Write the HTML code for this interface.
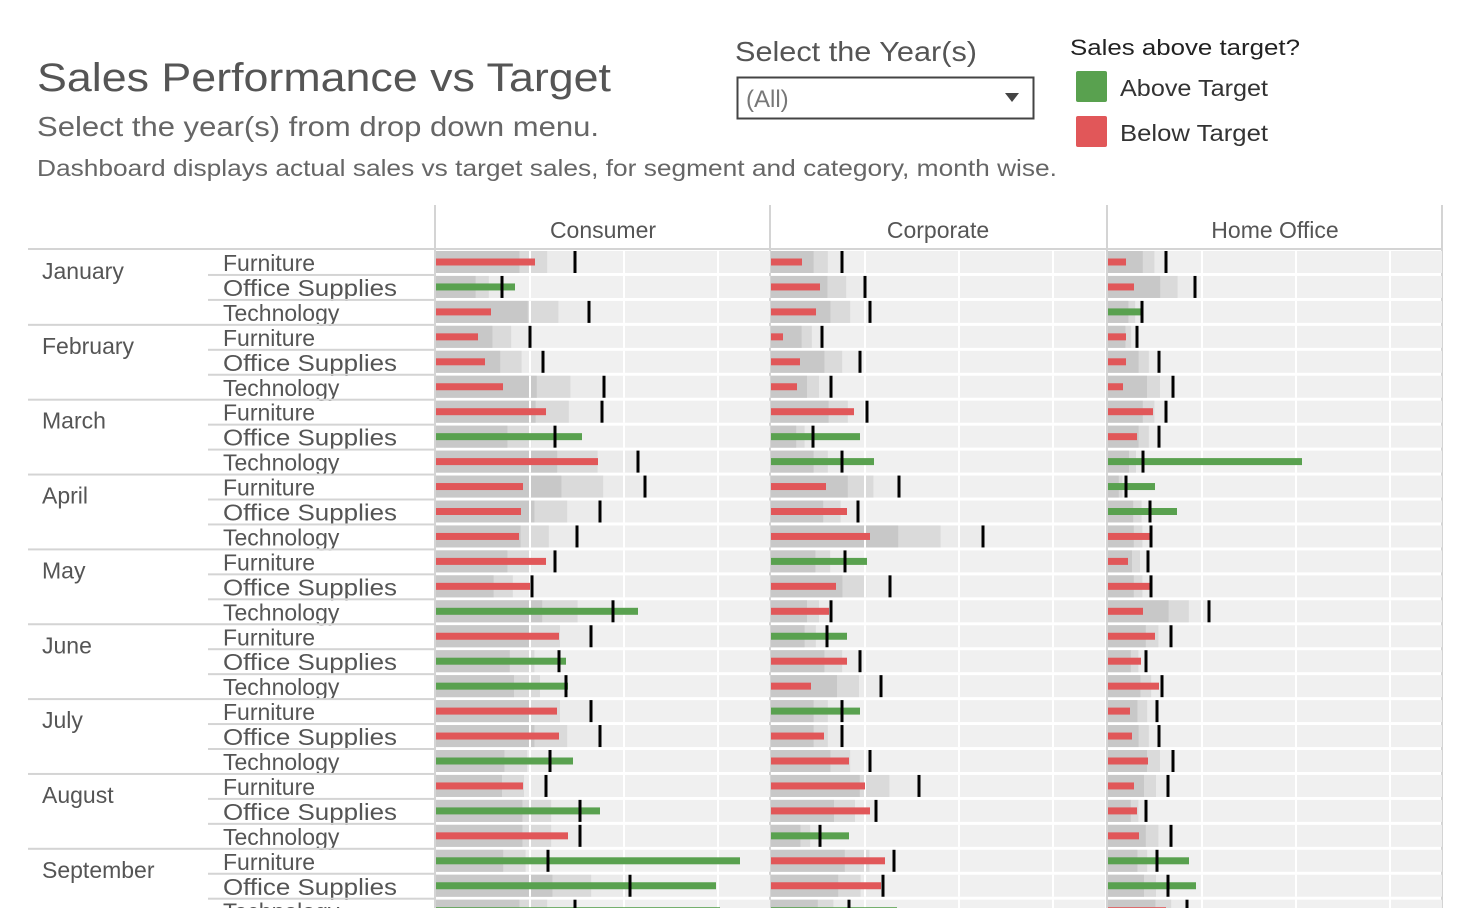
<!DOCTYPE html>
<html><head><meta charset="utf-8">
<style>
html,body{margin:0;padding:0;background:#fff;width:1472px;height:908px;overflow:hidden}
svg{display:block}
text{font-family:"Liberation Sans",sans-serif}
</style></head>
<body>
<svg id="chart" width="1472" height="908" viewBox="0 0 1472 908">
<text x="37" y="91" font-size="40" fill="#555" textLength="574" lengthAdjust="spacingAndGlyphs">Sales Performance vs Target</text>
<text x="37" y="136" font-size="28" fill="#666" textLength="562" lengthAdjust="spacingAndGlyphs">Select the year(s) from drop down menu.</text>
<text x="37" y="176" font-size="23" fill="#666" textLength="1020" lengthAdjust="spacingAndGlyphs">Dashboard displays actual sales vs target sales, for segment and category, month wise.</text>
<text x="735" y="61" font-size="28" fill="#555" textLength="242" lengthAdjust="spacingAndGlyphs">Select the Year(s)</text>
<g>
<rect x="737.5" y="77.5" width="296" height="41" fill="#fff" stroke="#444" stroke-width="2"/>
<text x="746" y="107" font-size="24" fill="#777">(All)</text>
<path d="M1005 93 L1019 93 L1012 102 Z" fill="#444"/>
</g>
<text x="1070" y="55" font-size="22" fill="#222" textLength="230" lengthAdjust="spacingAndGlyphs">Sales above target?</text>
<g>
<rect x="1076" y="71" width="31" height="31" rx="2" fill="#59a14f"/>
<text x="1120" y="96" font-size="23" fill="#333" textLength="148" lengthAdjust="spacingAndGlyphs">Above Target</text>
</g>
<g>
<rect x="1076" y="116" width="31" height="31" rx="2" fill="#e15759"/>
<text x="1120" y="141" font-size="23" fill="#333" textLength="148" lengthAdjust="spacingAndGlyphs">Below Target</text>
</g>
<g id="table"></g>
</svg>
<script>
const months=["January","February","March","April","May","June","July","August","September"];
const categories=["Furniture","Office Supplies","Technology"];
const segments=["Consumer","Corporate","Home Office"];
// values in units of ~$106 (one gridline = 94 units)
const consumerActual=[99,79,55,42,49,67,110,146,162,87,85,83,110,94,202,123,130,132,121,123,137,87,164,132,304,280,284];
const consumerTarget=[139,66,153,94,107,168,166,119,202,209,164,141,119,96,177,155,123,130,155,164,114,110,144,144,112,194,139];
const corporateActual=[31,49,45,12,29,26,83,89,103,55,76,99,96,65,58,76,76,40,89,53,78,94,99,78,114,110,126];
const corporateTarget=[71,94,99,51,89,60,96,42,71,128,87,212,74,119,60,56,89,110,71,71,99,148,105,49,123,112,78];
const homeActual=[18,26,35,18,18,15,45,29,194,47,69,42,20,42,35,47,33,51,22,24,40,26,29,31,81,88,58];
const homeTarget=[58,87,34,29,51,65,58,51,35,18,42,43,40,43,101,63,38,54,49,51,65,60,38,63,49,60,79];
const actuals=[consumerActual,corporateActual,homeActual];
const targets=[consumerTarget,corporateTarget,homeTarget];
const gridStep=94;

const NS="http://www.w3.org/2000/svg";
const g=document.getElementById('table');
function mk(tag,attrs,parent){const e=document.createElementNS(NS,tag);for(const k in attrs)e.setAttribute(k,attrs[k]);(parent||g).appendChild(e);return e;}
const panelX=[436,771,1108];
const panelW=334;
const rowH=24.95, top0=250;
function rowTop(i){return top0+i*rowH;}
function xs(p,v){return panelX[p]+v;}

// headers
segments.forEach((s,p)=>{
  const t=mk('text',{x:panelX[p]+panelW/2,y:238,'font-size':23,fill:'#555','text-anchor':'middle'});
  t.textContent=s;
  
  
});
[435,770,1107,1442].forEach(x=>{mk('rect',{x:x-1,y:205,width:2,height:703,fill:'#d4d4d4'});});
mk('rect',{x:28,y:248,width:1414,height:2,fill:'#d4d4d4'});

const nRows=months.length*3;
for(let i=0;i<nRows;i++){
  const y=rowTop(i);
  const mi=Math.floor(i/3), ci=i%3;
  if(ci===0){
    if(i>0) mk('rect',{x:28,y:y-1,width:408,height:2,fill:'#d4d4d4'});
    const mt=mk('text',{x:42,y:y+29,'font-size':23,fill:'#555'});
    mt.textContent=months[mi];
    
    
  } else {
    mk('rect',{x:208,y:y-1,width:228,height:2,fill:'#d4d4d4'});
  }
  const ct=mk('text',{x:223,y:y+21,'font-size':23,fill:'#555'});
  ct.textContent=categories[ci];
  if(ci===1){ct.setAttribute('textLength',174);ct.setAttribute('lengthAdjust','spacingAndGlyphs');}
  
  
  for(let p=0;p<3;p++){
    const a=actuals[p][i], t=targets[p][i];
    mk('rect',{x:panelX[p],y:y+1,width:panelW,height:22,fill:'#f0f0f0'});
    mk('rect',{x:panelX[p],y:y+1,width:t*1.0,height:22,fill:'#ebebeb'});
    mk('rect',{x:panelX[p],y:y+1,width:t*0.8,height:22,fill:'#dadada'});
    mk('rect',{x:panelX[p],y:y+1,width:t*0.6,height:22,fill:'#c8c8c8'});
    for(let k=1;k*gridStep<panelW;k++) mk('rect',{x:xs(p,k*gridStep)-1,y:y+1,width:2,height:22,fill:'#ffffff'});
    const bar=mk('rect',{x:panelX[p],y:y+8.5,width:a,height:7,fill:a>=t?'#59a14f':'#e15759'});
    
    
    const tk=mk('rect',{x:xs(p,t)-1.5,y:y+1,width:3,height:22,fill:'#000'});
    
    
  }
}
</script>
</body></html>
